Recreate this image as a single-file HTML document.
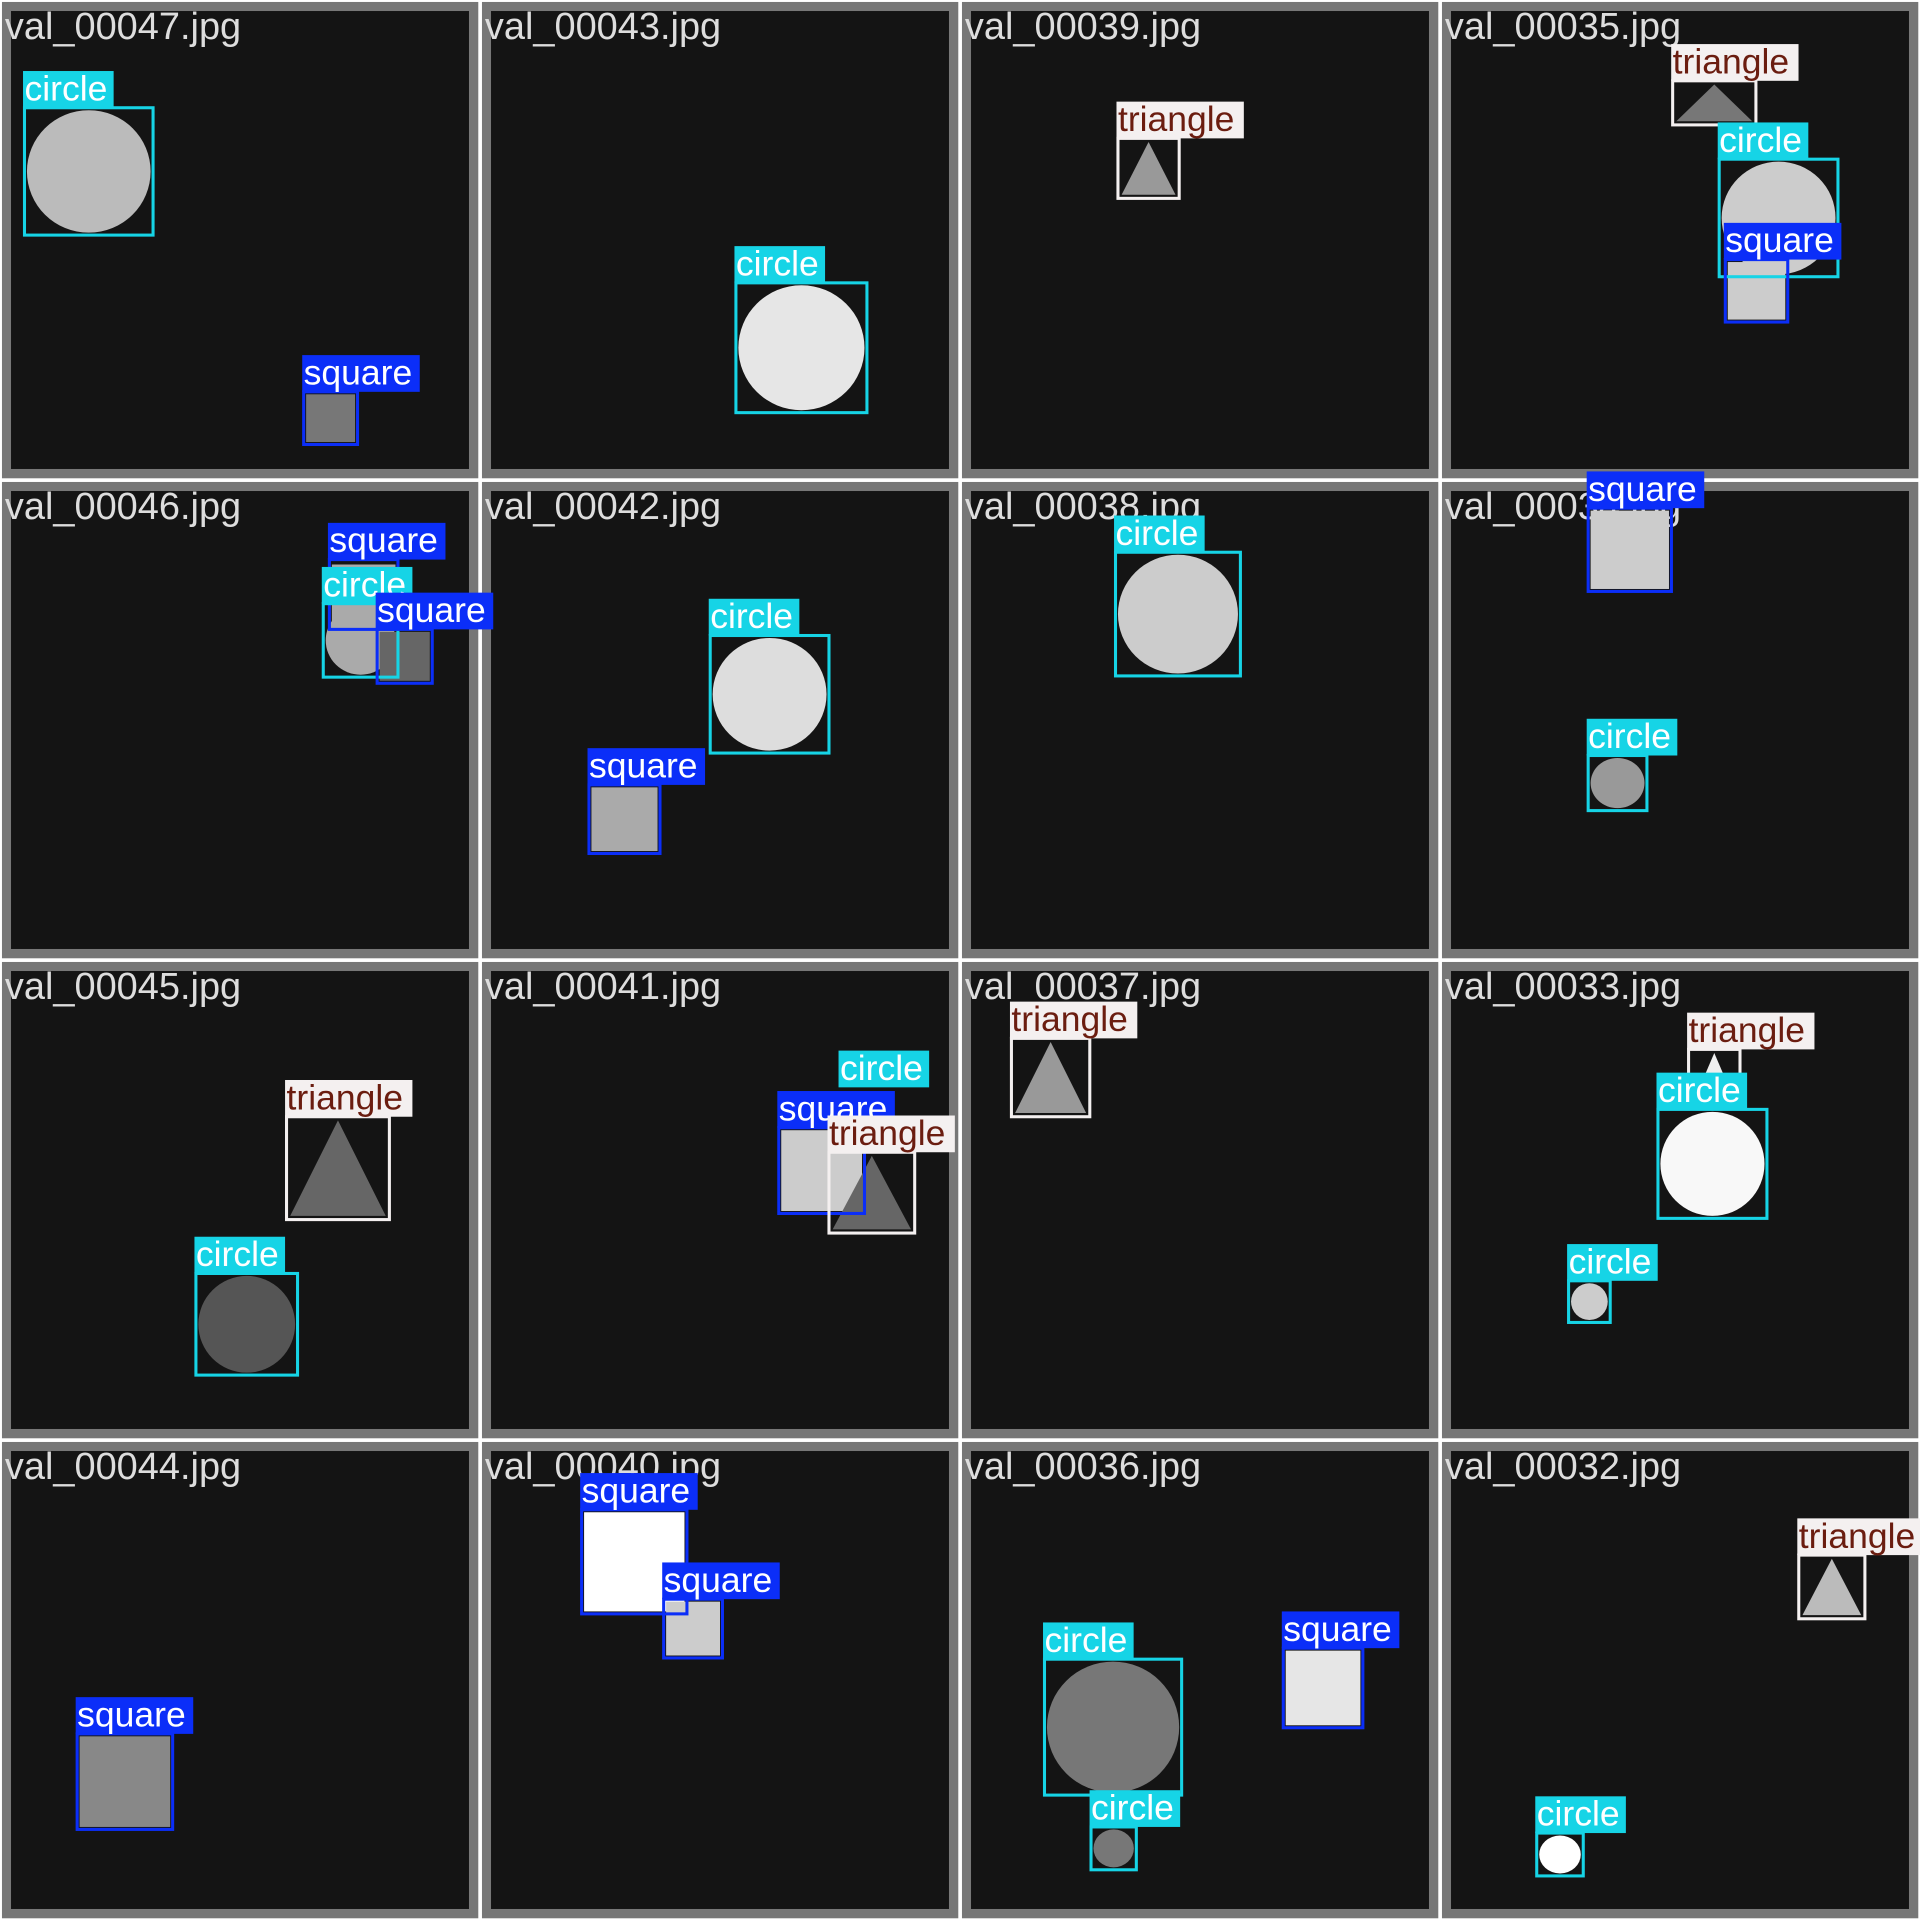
<!DOCTYPE html>
<html><head><meta charset="utf-8"><style>
html,body{margin:0;padding:0;background:#fff;}
svg{display:block;}
text{font-family:"Liberation Sans",Arial,sans-serif;}
</style></head>
<body>
<svg id="mosaic" width="1920" height="1920" viewBox="0 0 1568 1568" xmlns="http://www.w3.org/2000/svg"></svg>
<script>
const filenames = ["val_00047.jpg","val_00043.jpg","val_00039.jpg","val_00035.jpg","val_00046.jpg","val_00042.jpg","val_00038.jpg","val_00034.jpg","val_00045.jpg","val_00041.jpg","val_00037.jpg","val_00033.jpg","val_00044.jpg","val_00040.jpg","val_00036.jpg","val_00032.jpg"];
// shapes: [type, x1, y1, x2, y2, fill]
const shapes = [
 ["circle",20,88,125,192,"#bbbbbb"],["square",248,320,292,363,"#777777"],
 ["circle",601,231,708,337,"#e6e6e6"],
 ["triangle",913,113,963,162,"#999999"],
 ["triangle",1366,66,1434,102,"#777777"],["circle",1404,130,1501,226,"#cccccc"],["square",1409,212,1460,263,"#cccccc"],
 ["square",269,459,325,514,"#aaaaaa"],["circle",264,493,325,553,"#aaaaaa"],["square",308,514,353,558,"#666666"],
 ["circle",580,519,677,615,"#dddddd"],["square",481,641,539,697,"#aaaaaa"],
 ["circle",911,451,1013,552,"#cccccc"],
 ["square",1297,415,1365,483,"#cccccc"],["circle",1297,617,1345,662,"#999999"],
 ["triangle",234,912,318,996,"#666666"],["circle",160,1040,243,1123,"#555555"],
 ["square",636,921,706,991,"#cccccc"],["triangle",677,941,747,1007,"#666666"],
 ["triangle",826,848,890,912,"#999999"],
 ["triangle",1379,857,1421,905,"#eeeeee"],["circle",1354,906,1443,995,"#f8f8f8"],["circle",1281,1046,1315,1080,"#cccccc"],
 ["square",63,1416,141,1494,"#888888"],
 ["square",475,1233,561,1318,"#ffffff"],["square",542,1306,590,1354,"#cccccc"],
 ["circle",853,1355,965,1466,"#777777"],["circle",891,1492,928,1527,"#777777"],["square",1048,1346,1113,1411,"#e6e6e6"],
 ["triangle",1469,1270,1523,1322,"#bbbbbb"],["circle",1255,1497,1293,1532,"#ffffff"]
];
// boxes: [class, x1, y1, x2, y2, drawBox]
const boxes = [
 ["circle",20,88,125,192,1],["square",248,320,292,363,1],
 ["circle",601,231,708,337,1],
 ["triangle",913,113,963,162,1],
 ["triangle",1366,66,1434,102,1],["circle",1404,130,1501,226,1],["square",1409,212,1460,263,1],
 ["square",269,457,325,514,1],["circle",264,493,325,553,1],["square",308,514,353,558,1],
 ["circle",580,519,677,615,1],["square",481,641,539,697,1],
 ["circle",911,451,1013,552,1],
 ["square",1297,415,1365,483,1],["circle",1297,617,1345,662,1],
 ["triangle",234,912,318,996,1],["circle",160,1040,243,1123,1],
 ["circle",686,888,740,940,0],["square",636,921,706,991,1],["triangle",677,941,747,1007,1],
 ["triangle",826,848,890,912,1],
 ["triangle",1379,857,1421,905,1],["circle",1354,906,1443,995,1],["circle",1281,1046,1315,1080,1],
 ["square",63,1416,141,1494,1],
 ["square",475,1233,561,1318,1],["square",542,1306,590,1354,1],
 ["circle",853,1355,965,1466,1],["circle",891,1492,928,1527,1],["square",1048,1346,1113,1411,1],
 ["triangle",1469,1270,1523,1322,1],["circle",1255,1497,1293,1532,1]
];
const classColor = {circle:"#16d4e6", square:"#0b2ef8", triangle:"#f4f0f0"};
const textColor = {circle:"#ffffff", square:"#ffffff", triangle:"#6b1d10"};
const labelW = {circle:74, square:96, triangle:104};
const TILE = 392;

const NS = "http://www.w3.org/2000/svg";
const svg = document.getElementById("mosaic");
function mk(tag, attrs, parent){
  const e = document.createElementNS(NS, tag);
  for (const k in attrs) e.setAttribute(k, attrs[k]);
  (parent||svg).appendChild(e);
  return e;
}
filenames.forEach((fn, i) => {
  const col = i % 4, row = Math.floor(i / 4);
  const x = col * TILE, y = row * TILE;
  const g = mk("g", {});
  
  
  const outer = mk("rect", {x: x+1.6, y: y+1.6, width: 389, height: 389, fill: "#777777"}, g);
  
  
  const inner = mk("rect", {x: x+9, y: y+9, width: 374, height: 374, fill: "#141414"}, g);
  
  
  const t = mk("text", {x: x+4, y: y+32, "font-size": 31, fill: "#dddddd"}, g);
  t.textContent = fn;
  
  
});
shapes.forEach(s => {
  const [type, x1, y1, x2, y2, fill] = s;
  let e;
  if (type === "circle") {
    e = mk("ellipse", {cx: (x1+x2)/2, cy: (y1+y2)/2, rx: (x2-x1)/2-2, ry: (y2-y1)/2-2, fill: fill});
  } else if (type === "square") {
    e = mk("rect", {x: x1+2, y: y1+2, width: x2-x1-4, height: y2-y1-4, fill: fill});
  } else {
    const pts = [[(x1+x2)/2, y1+3], [x2-3, y2-3], [x1+3, y2-3]].map(p => p.join(",")).join(" ");
    e = mk("polygon", {points: pts, fill: fill});
  }
  
  
});
boxes.forEach(b => {
  const [cls, x1, y1, x2, y2, draw] = b;
  if (draw) {
    const r = mk("rect", {x: x1, y: y1, width: x2-x1, height: y2-y1, fill: "none", stroke: classColor[cls], "stroke-width": 2.5});
    
    
  }
  const lb = mk("rect", {x: x1-1.2, y: y1-30, width: labelW[cls], height: 30, fill: classColor[cls]});
  
  
  const lt = mk("text", {x: x1, y: y1-6, "font-size": 29, fill: textColor[cls]});
  lt.textContent = cls;
  
  
});
</script>
</body></html>
